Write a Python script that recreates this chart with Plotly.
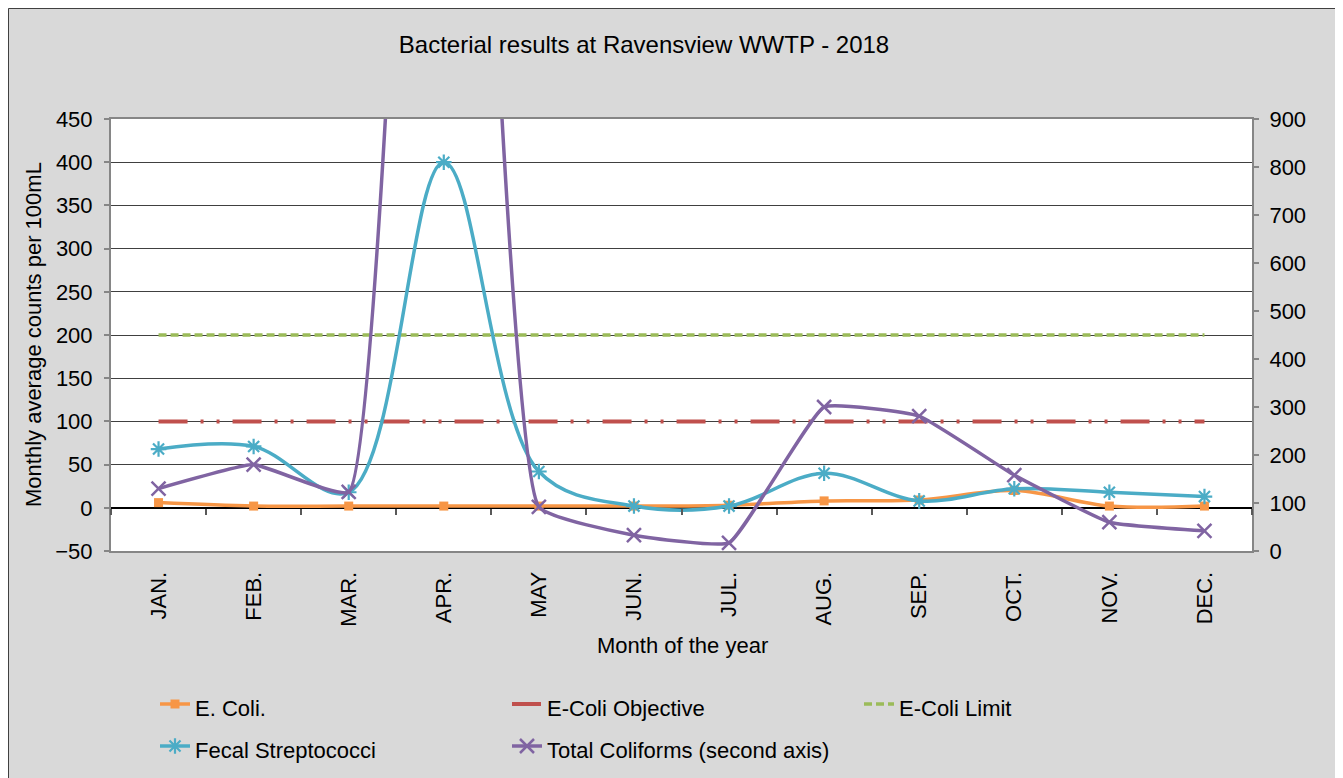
import plotly.graph_objects as go

months = ["JAN.", "FEB.", "MAR.", "APR.", "MAY", "JUN.", "JUL.", "AUG.", "SEP.", "OCT.", "NOV.", "DEC."]
ecoli = [6, 2, 2, 2, 2, 2, 3, 8, 9, 20, 2, 2]
ecoli_objective = [100] * 12
ecoli_limit = [200] * 12
fecal_strep = [68, 71, 18, 400, 42, 2, 2, 40, 8, 22, 18, 13]
total_coliforms = [130, 180, 123, 3300, 92, 33, 17, 300, 281, 158, 60, 42]

left_ticks = list(range(-50, 451, 50))
right_ticks = list(range(0, 901, 100))

FONT = "Liberation Sans, Arial, sans-serif"
FS = 22
ORANGE = "#F79646"
RED = "#C0504D"
GREEN = "#9BBB59"
CYAN = "#4BACC6"
PURPLE = "#8064A2"
AXIS = "#868686"

# figure geometry (the page adds an 8px body margin)
W, H = 1335, 770
L, R, T = 103, 91, 111
B = H - 543
PW, PH = W - L - R, H - T - B


def px_x(x):
    return (x - L) / PW


def px_y(y):
    return (H - B - y) / PH


def lbl(s):
    return '<span style="font-size:%dpx">%s</span>' % (FS, s)


fig = go.Figure()
fig.add_trace(go.Scatter(x=months, y=ecoli, name=lbl("E. Coli."), mode="lines+markers",
                         line=dict(color=ORANGE, width=3.5, shape="spline"),
                         marker=dict(symbol="square", size=9, color=ORANGE)))
fig.add_trace(go.Scatter(x=months, y=ecoli_objective, name=lbl("E-Coli Objective"), mode="lines",
                         line=dict(color=RED, width=4, dash="29px,13px,3px,13px,3px,13px")))
fig.add_trace(go.Scatter(x=months, y=ecoli_limit, name=lbl("E-Coli Limit"), mode="lines",
                         line=dict(color=GREEN, width=3.5, dash="8px,4px")))
fig.add_trace(go.Scatter(x=months, y=fecal_strep, name=lbl("Fecal Streptococci"), mode="lines+markers",
                         line=dict(color=CYAN, width=3.5, shape="spline"),
                         marker=dict(symbol="asterisk-open", size=13, color=CYAN,
                                     line=dict(color=CYAN, width=2.2))))
fig.add_trace(go.Scatter(x=months, y=total_coliforms, name=lbl("Total Coliforms (second axis)"),
                         mode="lines+markers", yaxis="y2",
                         line=dict(color=PURPLE, width=3.5, shape="spline", smoothing=0.35),
                         marker=dict(symbol="x-thin-open", size=14, color=PURPLE,
                                     line=dict(color=PURPLE, width=2.5))))

# helper trace so the tick-mark axis crossing at zero is drawn
boundaries = [i - 0.5 for i in range(len(months) + 1)]
fig.add_trace(go.Scatter(x=[boundaries[0], boundaries[-1]], y=[None, None], xaxis="x2",
                         mode="lines", showlegend=False, hoverinfo="skip"))

ymin, ymax = left_ticks[0], left_ticks[-1]
zero_pos = (0 - ymin) / (ymax - ymin)

fig.update_layout(
    width=W, height=H,
    margin=dict(l=L, r=R, t=T, b=B, autoexpand=False),
    paper_bgcolor="#d9d9d9", plot_bgcolor="white",
    font=dict(family=FONT, size=FS, color="black"),
    title=dict(text="Bacterial results at Ravensview WWTP - 2018", font=dict(size=24),
               x=px_x(636), xref="paper", xanchor="center",
               y=1 - 37 / H, yref="container", yanchor="middle"),
    xaxis=dict(type="category", showgrid=False, ticks="", tickangle=-90,
               showline=True, linecolor=AXIS, linewidth=2, mirror=True,
               ticklabelstandoff=10, range=[-0.5, 11.5]),
    xaxis2=dict(overlaying="x", anchor="free", position=zero_pos,
                range=[boundaries[0], boundaries[-1]], tickvals=boundaries,
                ticks="outside", ticklen=6, tickcolor="#595959", tickwidth=1.5,
                showticklabels=False, showgrid=False, zeroline=False, showline=False),
    yaxis=dict(range=[ymin, ymax], tickvals=left_ticks, showgrid=True,
               gridcolor="#404040", gridwidth=1,
               zeroline=True, zerolinecolor="black", zerolinewidth=1.5,
               showline=True, linecolor=AXIS, linewidth=2,
               ticks="outside", ticklen=5, tickcolor=AXIS, tickwidth=2,
               ticklabelstandoff=7),
    yaxis2=dict(range=[right_ticks[0], right_ticks[-1]], tickvals=right_ticks,
                overlaying="y", side="right", showgrid=False, zeroline=False,
                showline=True, linecolor=AXIS, linewidth=2,
                ticks="outside", ticklen=5, tickcolor=AXIS, tickwidth=2,
                ticklabelstandoff=6),
    legend=dict(orientation="h", x=px_x(147), y=px_y(670), xanchor="left", yanchor="top",
                entrywidth=307, entrywidthmode="pixels", bgcolor="rgba(0,0,0,0)",
                font=dict(size=30)),
    showlegend=True,
    annotations=[
        dict(text="Month of the year", xref="paper", yref="paper", x=px_x(674),
             y=px_y(637), xanchor="center", yanchor="middle",
             showarrow=False, font=dict(size=FS)),
        dict(text="Monthly average counts per 100mL", xref="paper", yref="paper",
             x=px_x(25), y=0.5, xanchor="center", yanchor="middle",
             textangle=-90, showarrow=False, font=dict(size=FS)),
    ],
    shapes=[
        dict(type="line", xref="paper", yref="paper",
             x0=px_x(0.5), y0=px_y(0.5), x1=px_x(W), y1=px_y(0.5),
             line=dict(color="#404040", width=1), layer="below"),
        dict(type="line", xref="paper", yref="paper",
             x0=px_x(0.5), y0=px_y(0.5), x1=px_x(0.5), y1=px_y(H),
             line=dict(color="#404040", width=1), layer="below"),
    ],
)

fig.write_html("out.html")
